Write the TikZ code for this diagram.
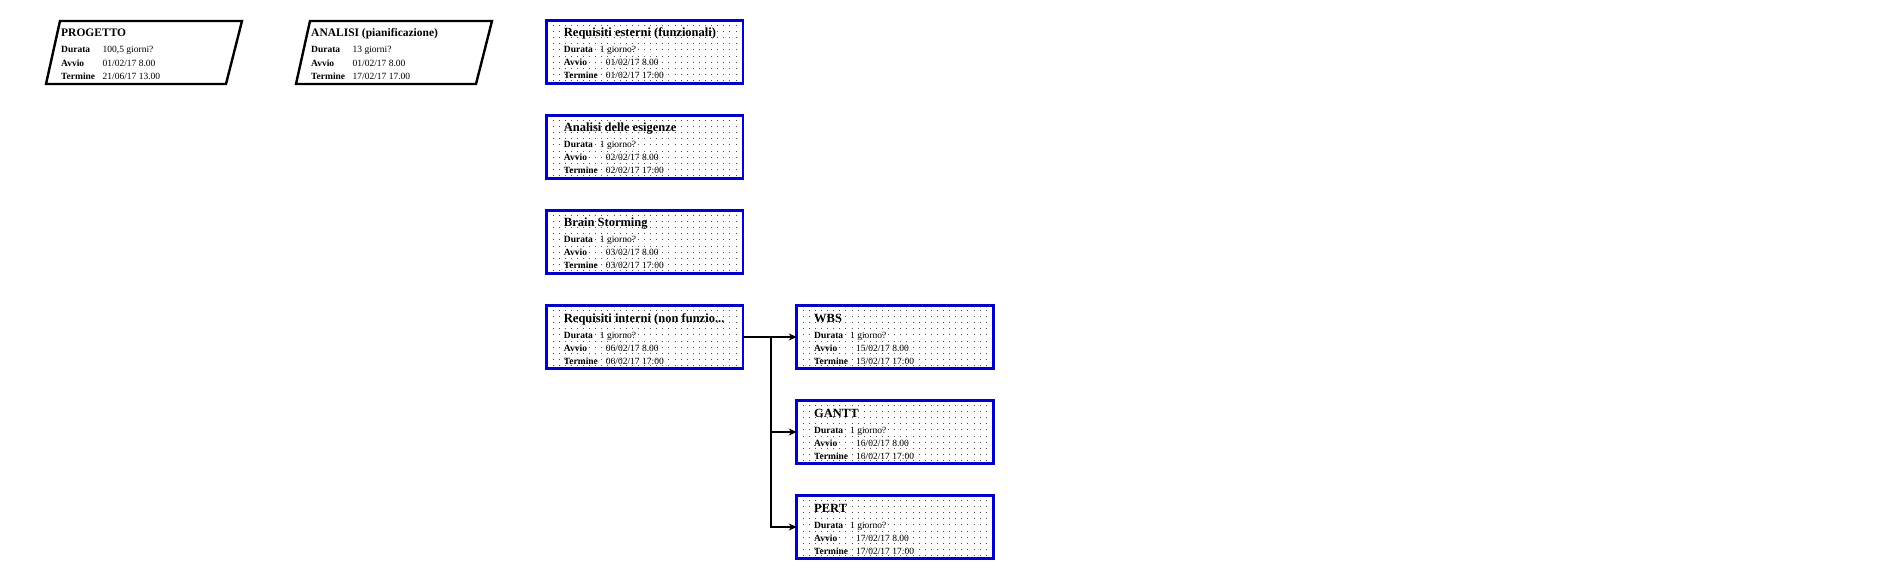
\documentclass[tikz,border=0pt]{standalone}
\usepackage{fontspec}
\setmainfont{Liberation Serif}
\usetikzlibrary{positioning,arrows.meta}
\definecolor{bordoblu}{RGB}{0,0,200}

\begin{document}
\begin{tikzpicture}[x=1pt,y=-1pt,
    attivita/.style={draw=bordoblu,line width=2.6pt,minimum width=196.5pt,minimum height=62.6pt,inner sep=0pt,outer sep=0pt,
      path picture={
        \foreach \k in {0,...,9}
          \draw[black!70,line width=.8pt,dash pattern=on .8pt off 5.3pt]
            ([xshift=6pt,yshift={-(4.3+6.2*\k)*1pt}]path picture bounding box.north west)--([yshift={-(4.3+6.2*\k)*1pt}]path picture bounding box.north east);
      }},
    sommario/.style={draw,line width=2.4pt},
    titolo/.style={anchor=base west,inner sep=0pt,font=\bfseries\fontsize{12.5}{14}\selectfont},
    titolosomm/.style={titolo,font=\bfseries\fontsize{11.5}{13}\selectfont},
    campo/.style={anchor=base west,inner sep=0pt,font=\bfseries\fontsize{9.5}{11}\selectfont},
    valore/.style={anchor=base west,inner sep=0pt,font=\fontsize{9.5}{11}\selectfont}]
  \useasboundingbox (0,0) rectangle (1891,580);
  % attivita di riepilogo
  \draw[sommario] (46,84)--(60,21)--(242,21)--(226,84)--cycle;
  \draw[sommario] (296,84)--(310,21)--(492,21)--(476,84)--cycle;
  \foreach \n/\x/\titolo/\dur/\avv/\ter in {
      progetto/61/PROGETTO/{100,5 giorni?}/{01/02/17 8.00}/{21/06/17 13.00},
      analisi/311/{ANALISI (pianificazione)}/{13 giorni?}/{01/02/17 8.00}/{17/02/17 17.00}}{
    \node[titolosomm] (\n) at (\x,37) {\titolo};
    \node[campo] (\n-durata) at (\x,53) {Durata};
    \node[campo] (\n-avvio) at (\x,66.3) {Avvio};
    \node[campo] (\n-termine) at (\x,79.8) {Termine};
    \node[valore] (\n-vdurata) at (\x+41.5,53) {\dur};
    \node[valore] (\n-vavvio) at (\x+41.5,66.3) {\avv};
    \node[valore] (\n-vtermine) at (\x+41.5,79.8) {\ter};
  }
  % attivita
  \foreach \n/\x/\y/\titolo/\dur/\avv/\ter in {
      esterni/644.75/52/{Requisiti esterni (funzionali)}/{1 giorno?}/{01/02/17 8.00}/{01/02/17 17:00},
      esigenze/644.75/147/{Analisi delle esigenze}/{1 giorno?}/{02/02/17 8.00}/{02/02/17 17:00},
      brain/644.75/242/{Brain Storming}/{1 giorno?}/{03/02/17 8.00}/{03/02/17 17:00},
      interni/644.75/337/{Requisiti interni (non funzio.{}..}/{1 giorno?}/{06/02/17 8.00}/{06/02/17 17:00},
      wbs/895/337/WBS/{1 giorno?}/{15/02/17 8.00}/{15/02/17 17:00},
      gantt/895/432/GANTT/{1 giorno?}/{16/02/17 8.00}/{16/02/17 17:00},
      pert/895/527/PERT/{1 giorno?}/{17/02/17 8.00}/{17/02/17 17:00}}{
    \node[attivita] (\n) at (\x,\y) {};
    \node[titolo] (\n-titolo) at (\x-81,\y-15) {\titolo};
    \node[campo] (\n-durata) at (\x-81,\y+1) {Durata};
    \node[campo] (\n-avvio) at (\x-81,\y+14) {Avvio};
    \node[campo] (\n-termine) at (\x-81,\y+27) {Termine};
    \node[valore] (\n-vdurata) at (\x-45,\y+1) {\dur};
    \node[valore] (\n-vavvio) at (\x-39,\y+14) {\avv};
    \node[valore] (\n-vtermine) at (\x-39,\y+27) {\ter};
  }
  % collegamenti
  \coordinate (ramo) at (771,337);
  \draw[line width=1.2pt] (interni.east)--(ramo);
  \foreach \t in {wbs,gantt,pert}
    \draw[line width=1.2pt,-{Stealth[length=8pt,width=7pt]}] (ramo)|-(\t.west);
\end{tikzpicture}
\end{document}
